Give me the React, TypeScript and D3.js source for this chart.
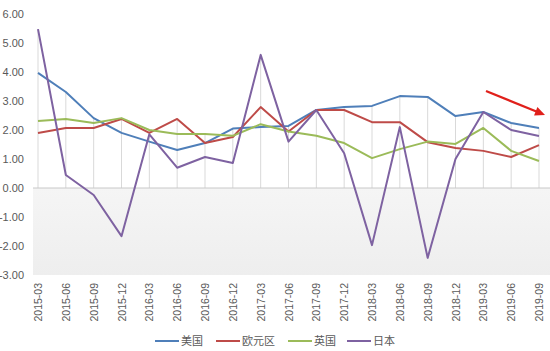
import React, { useRef, useEffect } from 'react';
import * as d3 from 'd3';

const quarters = [
  '2015-03', '2015-06', '2015-09', '2015-12', '2016-03', '2016-06', '2016-09', '2016-12',
  '2017-03', '2017-06', '2017-09', '2017-12', '2018-03', '2018-06', '2018-09', '2018-12',
  '2019-03', '2019-06', '2019-09',
];

const usa = [3.97, 3.31, 2.41, 1.9, 1.6, 1.31, 1.55, 2.05, 2.1, 2.14, 2.69, 2.79, 2.83, 3.17, 3.14, 2.48, 2.62, 2.24, 2.07];
const euro = [1.9, 2.07, 2.07, 2.38, 1.9, 2.38, 1.55, 1.76, 2.79, 1.95, 2.69, 2.69, 2.27, 2.27, 1.58, 1.38, 1.28, 1.07, 1.48];
const uk = [2.31, 2.38, 2.24, 2.41, 2.0, 1.86, 1.86, 1.8, 2.2, 1.95, 1.8, 1.55, 1.03, 1.34, 1.6, 1.52, 2.07, 1.28, 0.93];
const japan = [5.48, 0.45, -0.24, -1.66, 1.85, 0.7, 1.07, 0.86, 4.59, 1.6, 2.69, 1.2, -1.97, 2.1, -2.41, 1.0, 2.62, 2.0, 1.79];

const seriesNames = ['美国', '欧元区', '英国', '日本'];
const seriesColors = ['#4f7fb9', '#be4b48', '#9bbb59', '#7e62a1'];
const yTicks = [6, 5, 4, 3, 2, 1, 0, -1, -2, -3];

const App: React.FC = () => {
  const svgRef = useRef<SVGSVGElement | null>(null);

  useEffect(() => {
    const svg = d3.select(svgRef.current);
    svg.selectAll('*').remove();

    const width = 550;
    const height = 351;
    const font = '"Liberation Sans", "Noto Sans CJK SC", sans-serif';

    const x = d3.scalePoint<string>().domain(quarters).range([38, 539]);
    const y = d3.scaleLinear().domain([-3, 6]).range([275, 14]);

    const all = [usa, euro, uk, japan];

    // shaded band below zero
    const defs = svg.append('defs');
    const grad = defs.append('linearGradient').attr('id', 'neg').attr('x1', 0).attr('y1', 0).attr('x2', 0).attr('y2', 1);
    grad.append('stop').attr('offset', '0%').attr('stop-color', '#f5f5f5');
    grad.append('stop').attr('offset', '100%').attr('stop-color', '#eeeeee');
    svg.append('rect')
      .attr('x', 33).attr('y', y(0))
      .attr('width', width - 33).attr('height', y(-3) - y(0))
      .attr('fill', 'url(#neg)');

    // drop lines
    svg.append('g')
      .selectAll('line')
      .data(quarters)
      .join('line')
      .attr('x1', d => x(d) as number)
      .attr('x2', d => x(d) as number)
      .attr('y1', (d, i) => y(d3.max(all, s => s[i]) as number))
      .attr('y2', y(0))
      .attr('stroke', '#d9d9d9')
      .attr('stroke-width', 1);

    // zero axis
    svg.append('line')
      .attr('x1', 33).attr('x2', width)
      .attr('y1', y(0)).attr('y2', y(0))
      .attr('stroke', '#c8c8c8');

    // y labels
    svg.append('g')
      .selectAll('text')
      .data(yTicks)
      .join('text')
      .attr('x', 24)
      .attr('y', d => y(d) + 4)
      .attr('text-anchor', 'end')
      .attr('font-family', font)
      .attr('font-size', 11)
      .attr('fill', '#595959')
      .text(d => d.toFixed(2));

    // x labels
    svg.append('g')
      .selectAll('text')
      .data(quarters)
      .join('text')
      .attr('transform', d => `translate(${(x(d) as number) + 4},283) rotate(-90)`)
      .attr('text-anchor', 'end')
      .attr('font-family', font)
      .attr('font-size', 10.5)
      .attr('fill', '#595959')
      .text(d => d);

    const line = d3.line<number>()
      .x((d, i) => x(quarters[i]) as number)
      .y(d => y(d));

    all.forEach((s, k) => {
      svg.append('path')
        .datum(s)
        .attr('d', line)
        .attr('fill', 'none')
        .attr('stroke', seriesColors[k])
        .attr('stroke-width', 2)
        .attr('stroke-linejoin', 'round');
    });

    // red arrow
    const ax1 = 486, ay1 = 91, ax2 = 545, ay2 = 115;
    const ang = Math.atan2(ay2 - ay1, ax2 - ax1);
    svg.append('line')
      .attr('x1', ax1).attr('y1', ay1)
      .attr('x2', ax2 - 8 * Math.cos(ang)).attr('y2', ay2 - 8 * Math.sin(ang))
      .attr('stroke', '#e0201b').attr('stroke-width', 2.2);
    const head = [
      [ax2, ay2],
      [ax2 - 10 * Math.cos(ang) + 4.5 * Math.sin(ang), ay2 - 10 * Math.sin(ang) - 4.5 * Math.cos(ang)],
      [ax2 - 10 * Math.cos(ang) - 4.5 * Math.sin(ang), ay2 - 10 * Math.sin(ang) + 4.5 * Math.cos(ang)],
    ];
    svg.append('polygon')
      .attr('points', head.map(p => p.join(',')).join(' '))
      .attr('fill', '#e0201b');

    // legend
    const legendX = [155, 216, 288, 347];
    const lg = svg.append('g');
    seriesNames.forEach((name, k) => {
      lg.append('line')
        .attr('x1', legendX[k]).attr('x2', legendX[k] + 24)
        .attr('y1', 341).attr('y2', 341)
        .attr('stroke', seriesColors[k]).attr('stroke-width', 2);
      lg.append('text')
        .attr('x', legendX[k] + 26).attr('y', 345)
        .attr('font-family', font)
        .attr('font-size', 11)
        .attr('fill', '#595959')
        .text(name);
    });
  }, []);

  return (
    <svg
      ref={svgRef}
      width={550}
      height={351}
      style={{ position: 'absolute', left: 0, top: 0, background: '#fff' }}
    />
  );
};

export default App;
